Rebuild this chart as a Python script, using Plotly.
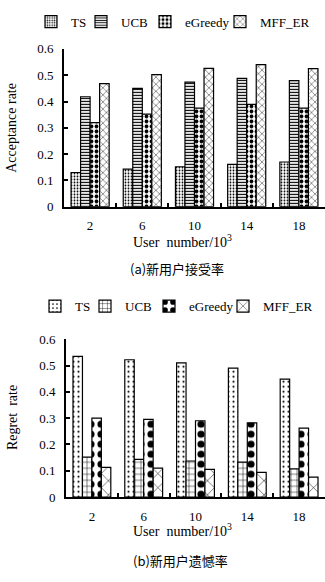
import plotly.graph_objects as go

categories = ["2", "6", "10", "14", "18"]
series_names = ["TS", "UCB", "eGreedy", "MFF_ER"]

# (a) acceptance rate
acc_ts = [0.13, 0.143, 0.152, 0.161, 0.17]
acc_ucb = [0.418, 0.45, 0.474, 0.488, 0.479]
acc_eg = [0.32, 0.352, 0.375, 0.389, 0.375]
acc_mff = [0.468, 0.502, 0.526, 0.54, 0.525]

# (b) regret rate
reg_ts = [0.535, 0.522, 0.51, 0.49, 0.448]
reg_ucb = [0.152, 0.143, 0.137, 0.133, 0.107]
reg_eg = [0.3, 0.295, 0.29, 0.282, 0.262]
reg_mff = [0.113, 0.11, 0.105, 0.094, 0.076]

y_ticks = [0, 0.1, 0.2, 0.3, 0.4, 0.5, 0.6]
y_ticktext = ["0", "0.1", "0.2", "0.3", "0.4", "0.5", "0.6"]

FONT = "Liberation Serif"
CJK = "Noto Sans CJK SC"

top_patterns = [
    dict(shape=".", size=3, solidity=0.3),
    dict(shape="-", size=3, solidity=0.4),
    dict(shape=".", size=5, solidity=0.45),
    dict(shape="x", size=5, solidity=0.16),
]
bot_patterns = [
    dict(shape=".", size=5, solidity=0.14),
    dict(shape="+", size=6, solidity=0.16),
    dict(shape=".", size=10, solidity=0.4),
    dict(shape="x", size=10, solidity=0.1),
]

# legend swatch centres (px) for top / bottom legends
top_leg_x = [51, 101, 165, 240]
bot_leg_x = [55, 105, 169, 243]

fig = go.Figure()
top_vals = [acc_ts, acc_ucb, acc_eg, acc_mff]
bot_vals = [reg_ts, reg_ucb, reg_eg, reg_mff]
top_leg_ids = ["legend", "legend3", "legend4", "legend5"]
bot_leg_ids = ["legend2", "legend6", "legend7", "legend8"]

for name, vals, pat, lid in zip(series_names, top_vals, top_patterns, top_leg_ids):
    fig.add_trace(go.Bar(
        x=categories, y=vals, name=name, xaxis="x", yaxis="y", legend=lid, showlegend=True,
        marker=dict(color="white", line=dict(color="black", width=1.2),
                    pattern=dict(fgcolor="black", bgcolor="white", fillmode="overlay",
                                 fgopacity=1, **pat)),
    ))
for name, vals, pat, lid in zip(series_names, bot_vals, bot_patterns, bot_leg_ids):
    fig.add_trace(go.Bar(
        x=categories, y=vals, name=name, xaxis="x2", yaxis="y2", legend=lid, showlegend=True,
        marker=dict(color="white", line=dict(color="black", width=1.2),
                    pattern=dict(fgcolor="black", bgcolor="white", fillmode="overlay",
                                 fgopacity=1, **pat)),
    ))

H = 582.0
W = 325.0

axis_common = dict(showline=True, linecolor="black", linewidth=2, showgrid=False,
                   zeroline=False, tickfont=dict(family=FONT, size=13, color="black"),
                   ticks="inside", tickcolor="black", tickwidth=2, ticklen=4)

fig.update_layout(
    width=325, height=582,
    margin=dict(l=0, r=0, t=0, b=0),
    paper_bgcolor="white", plot_bgcolor="white",
    showlegend=True,
    barmode="group", bargap=0.27, bargroupgap=0,
    font=dict(family=FONT, color="black"),
    xaxis=dict(domain=[64 / W, 1], anchor="y", type="category", tickson="boundaries",
               ticklabelstandoff=6, **axis_common),
    yaxis=dict(domain=[(H - 205) / H, (H - 43) / H], anchor="x", range=[0, 0.6],
               tickvals=y_ticks, ticktext=y_ticktext, ticklabelstandoff=6, **axis_common),
    xaxis2=dict(domain=[66 / W, 1], anchor="y2", type="category", tickson="boundaries",
                ticklabelstandoff=6, **axis_common),
    yaxis2=dict(domain=[(H - 503) / H, (H - 341) / H], anchor="x2", range=[0, 0.6],
                tickvals=y_ticks, ticktext=y_ticktext, ticklabelstandoff=6, **axis_common),
)

leg_common = dict(orientation="h", xanchor="left", yanchor="middle", itemwidth=30,
                  font=dict(family=FONT, size=13, color="black"),
                  bgcolor="rgba(0,0,0,0)", borderwidth=0, tracegroupgap=0, visible=True)
for lid, cx in zip(top_leg_ids, top_leg_x):
    fig.update_layout({lid: dict(x=(cx - 20) / W, y=(H - 15) / H, **leg_common)})
for lid, cx in zip(bot_leg_ids, bot_leg_x):
    fig.update_layout({lid: dict(x=(cx - 20) / W, y=(H - 307) / H, **leg_common)})

ann = [
    dict(text="Acceptance rate", x=12 / W, y=(H - 124) / H, textangle=-90, size=14, fam=FONT),
    dict(text="User  number/10<sup>3</sup>", x=183 / W, y=(H - 240) / H, textangle=0, size=14, fam=FONT),
    dict(text="(a)新用户接受率", x=177 / W, y=(H - 268) / H, textangle=0, size=13, fam=CJK),
    dict(text="Regret  rate", x=12 / W, y=(H - 422) / H, textangle=-90, size=14, fam=FONT),
    dict(text="User  number/10<sup>3</sup>", x=183 / W, y=(H - 537) / H, textangle=0, size=14, fam=FONT),
    dict(text="(b)新用户遗憾率", x=180 / W, y=(H - 568) / H, textangle=0, size=13, fam=CJK),
]
for a in ann:
    fig.add_annotation(text=a["text"], x=a["x"], y=a["y"], xref="paper", yref="paper",
                       xanchor="center", yanchor="middle", textangle=a["textangle"],
                       showarrow=False, font=dict(family=a["fam"], size=a["size"], color="black"))

fig.write_html("out.html")
